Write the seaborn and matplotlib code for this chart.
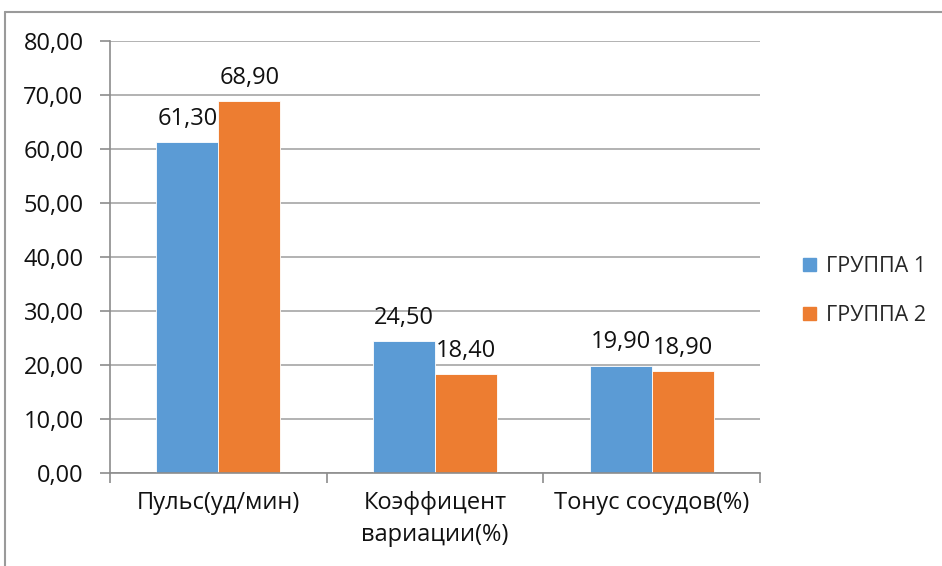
import matplotlib
matplotlib.use("Agg")
import matplotlib.pyplot as plt
import matplotlib.patches as mpatches
import seaborn as sns
import pandas as pd

categories = ["Пульс(уд/мин)", "Коэффицент\nвариации(%)", "Тонус сосудов(%)"]
groups = ["ГРУППА 1", "ГРУППА 2"]
group1 = [61.30, 24.50, 19.90]
group2 = [68.90, 18.40, 18.90]
y_ticks = [0, 10, 20, 30, 40, 50, 60, 70, 80]

colors = ["#5B9BD5", "#ED7D31"]
FS = 17

df = pd.DataFrame({
    "category": categories * 2,
    "group": [groups[0]] * 3 + [groups[1]] * 3,
    "value": group1 + group2,
})

sns.set_theme(style="white")
plt.rcParams["font.family"] = ["Open Sans", "DejaVu Sans"]

fig = plt.figure(figsize=(9.42, 5.66), dpi=100)
ax = fig.add_axes([110 / 942, 1 - 473 / 566, 650 / 942, 432 / 566])

sns.barplot(data=df, x="category", y="value", hue="group", order=categories,
            hue_order=groups, palette=colors, width=0.572, gap=0,
            saturation=1, linewidth=0.6, edgecolor="white", ax=ax, legend=False)

def fmt(v):
    return f"{v:.2f}".replace(".", ",")

for container in ax.containers:
    ax.bar_label(container, labels=[fmt(v) for v in container.datavalues],
                 padding=8, fontsize=FS, color="#111111")

ax.set_xlim(-0.5, 2.5)
ax.set_ylim(0, 80)
ax.set_yticks(y_ticks)
ax.set_yticklabels([fmt(v) for v in y_ticks], fontsize=FS, color="#111111")
ax.yaxis.grid(True, color="#a6a6a6", linewidth=1.2)
ax.set_axisbelow(True)

ax.set_xticks(range(len(categories)))
ax.set_xticklabels(categories, fontsize=FS, color="#111111", linespacing=1.45)
ax.set_xticks([-0.5, 0.5, 1.5, 2.5], minor=True)
ax.tick_params(axis="x", which="major", length=0, pad=13)
ax.tick_params(axis="x", which="minor", length=7, width=1.2, color="#8c8c8c",
               direction="out", bottom=True)
ax.tick_params(axis="y", length=7, width=1.2, color="#8c8c8c", direction="out",
               left=True, pad=12)

ax.set_xlabel("")
ax.set_ylabel("")
for side in ["top", "right"]:
    ax.spines[side].set_visible(False)
for side in ["left", "bottom"]:
    ax.spines[side].set_color("#8c8c8c")
    ax.spines[side].set_linewidth(1.2)

handles = [mpatches.Patch(color=c, label=g) for c, g in zip(colors, groups)]
fig.legend(handles=handles, loc="center left", bbox_to_anchor=(803 / 942, 1 - 291 / 566),
           frameon=False, fontsize=15.5, handlelength=0.6, handleheight=0.6,
           handletextpad=0.45, labelspacing=1.3, borderpad=0, borderaxespad=0)

# chart frame
fig.add_artist(plt.Line2D([5 / 942, 5 / 942], [0, 1 - 12 / 566], color="#9a9a9a",
                          linewidth=1.5, transform=fig.transFigure))
fig.add_artist(plt.Line2D([5 / 942, 1], [1 - 12 / 566, 1 - 12 / 566], color="#9a9a9a",
                          linewidth=1.5, transform=fig.transFigure))

fig.savefig("out.png", dpi=100, facecolor="white")
